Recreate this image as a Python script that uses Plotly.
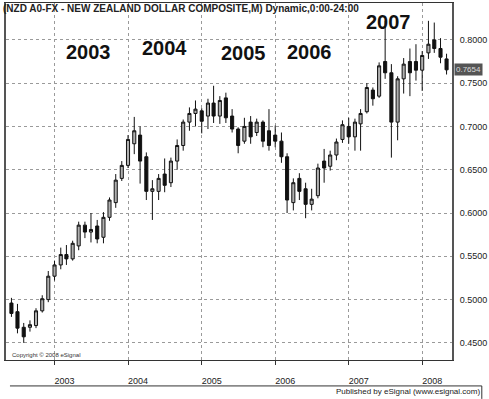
import plotly.graph_objects as go

months = ["2002-06-01","2002-07-01","2002-08-01","2002-09-01","2002-10-01","2002-11-01","2002-12-01",
          "2003-01-01","2003-02-01","2003-03-01","2003-04-01","2003-05-01","2003-06-01","2003-07-01","2003-08-01","2003-09-01","2003-10-01","2003-11-01","2003-12-01",
          "2004-01-01","2004-02-01","2004-03-01","2004-04-01","2004-05-01","2004-06-01","2004-07-01","2004-08-01","2004-09-01","2004-10-01","2004-11-01","2004-12-01",
          "2005-01-01","2005-02-01","2005-03-01","2005-04-01","2005-05-01","2005-06-01","2005-07-01","2005-08-01","2005-09-01","2005-10-01","2005-11-01","2005-12-01",
          "2006-01-01","2006-02-01","2006-03-01","2006-04-01","2006-05-01","2006-06-01","2006-07-01","2006-08-01","2006-09-01","2006-10-01","2006-11-01","2006-12-01",
          "2007-01-01","2007-02-01","2007-03-01","2007-04-01","2007-05-01","2007-06-01","2007-07-01","2007-08-01","2007-09-01","2007-10-01","2007-11-01","2007-12-01",
          "2008-01-01","2008-02-01","2008-03-01","2008-04-01","2008-05-01"]

opens = [0.496,0.486,0.468,0.468,0.470,0.487,0.500,
         0.527,0.540,0.552,0.547,0.562,0.586,0.578,0.585,0.572,0.595,0.612,0.640,
         0.655,0.680,0.690,0.665,0.625,0.625,0.645,0.635,0.660,0.678,0.705,0.715,
         0.718,0.712,0.727,0.712,0.733,0.712,0.697,0.683,0.705,0.693,0.705,0.695,
         0.690,0.683,0.665,0.612,0.640,0.628,0.610,0.620,0.660,0.654,0.667,0.685,
         0.700,0.688,0.703,0.717,0.742,0.735,0.775,0.762,0.705,0.755,0.775,0.775,
         0.765,0.785,0.800,0.790,0.778]
highs = [0.502,0.495,0.473,0.476,0.490,0.505,0.533,
         0.545,0.560,0.563,0.568,0.590,0.590,0.600,0.592,0.601,0.618,0.645,0.660,
         0.690,0.711,0.700,0.670,0.638,0.645,0.663,0.664,0.685,0.708,0.722,0.730,
         0.721,0.732,0.747,0.735,0.739,0.720,0.699,0.710,0.712,0.709,0.707,0.720,
         0.701,0.693,0.669,0.640,0.646,0.635,0.628,0.657,0.674,0.672,0.686,0.707,
         0.710,0.709,0.720,0.750,0.745,0.774,0.822,0.772,0.758,0.779,0.790,0.795,
         0.787,0.822,0.820,0.802,0.784]
lows = [0.480,0.461,0.450,0.463,0.467,0.485,0.497,
        0.522,0.535,0.540,0.545,0.557,0.571,0.566,0.565,0.565,0.591,0.606,0.637,
        0.652,0.668,0.634,0.615,0.592,0.615,0.624,0.630,0.650,0.672,0.695,0.700,
        0.692,0.697,0.704,0.703,0.704,0.693,0.669,0.680,0.680,0.689,0.676,0.672,
        0.676,0.658,0.600,0.603,0.615,0.594,0.603,0.617,0.635,0.649,0.661,0.681,
        0.680,0.672,0.672,0.715,0.724,0.733,0.755,0.664,0.684,0.738,0.735,0.753,
        0.741,0.778,0.785,0.773,0.760]
closes = [0.484,0.467,0.457,0.471,0.487,0.501,0.527,
          0.540,0.552,0.547,0.565,0.586,0.578,0.581,0.570,0.595,0.615,0.638,0.655,
          0.685,0.695,0.660,0.625,0.628,0.640,0.632,0.660,0.678,0.705,0.715,0.720,
          0.706,0.727,0.712,0.730,0.710,0.697,0.678,0.700,0.688,0.705,0.683,0.678,
          0.683,0.665,0.615,0.635,0.625,0.610,0.616,0.652,0.652,0.667,0.682,0.702,
          0.688,0.705,0.715,0.745,0.732,0.770,0.762,0.705,0.755,0.772,0.762,0.765,
          0.782,0.795,0.790,0.780,0.7654]

price_ticks = [0.45, 0.50, 0.55, 0.60, 0.65, 0.70, 0.75, 0.80]
price_labels = ["0.4500", "0.5000", "0.5500", "0.6000", "0.6500", "0.7000", "0.7500", "0.8000"]
year_ticks = ["2003-01-01", "2004-01-01", "2005-01-01", "2006-01-01", "2007-01-01", "2008-01-01"]
year_labels = ["2003", "2004", "2005", "2006", "2007", "2008"]
big_years = ["2003", "2004", "2005", "2006", "2007"]
last_price = "0.7654"

W, H = 489, 399
L, R, T, B = 6, 455, 2, 360

def px(x):
    return (x - L) / (R - L)

def py(y):
    return (B - y) / (B - T)

fig = go.Figure()
fig.add_trace(go.Candlestick(
    x=months, open=opens, high=highs, low=lows, close=closes,
    increasing=dict(fillcolor="#b0b0b0", line=dict(color="#111111", width=1)),
    decreasing=dict(fillcolor="#111111", line=dict(color="#111111", width=1)),
    whiskerwidth=0, showlegend=False, hoverinfo="skip"))

fig.update_layout(
    width=W, height=H,
    margin=dict(l=L, r=W - R, t=T, b=H - B),
    paper_bgcolor="white", plot_bgcolor="white",
    boxgap=0.22,
    showlegend=False,
    font=dict(family="Liberation Sans", color="#222"),
)
fig.update_xaxes(
    type="date", range=["2002-05-05", "2008-05-28"],
    rangeslider=dict(visible=False),
    tickvals=year_ticks, ticktext=year_labels,
    ticks="outside", ticklen=4, tickcolor="#333",
    tickfont=dict(size=9, color="#222", family="Liberation Sans"),
    ticklabelshift=10, ticklabelstandoff=8,
    showgrid=True, gridcolor="#9a9a9a", griddash="dot", gridwidth=1,
    showline=True, linecolor="#333", linewidth=1, mirror=True, zeroline=False,
)
fig.update_yaxes(
    range=[0.4302, 0.8426], side="right",
    tickvals=price_ticks, ticktext=price_labels,
    ticks="", tickfont=dict(size=9, color="#222", family="Liberation Sans"),
    ticklabelstandoff=4,
    showgrid=True, gridcolor="#9a9a9a", griddash="dot", gridwidth=1,
    showline=True, linecolor="#555", linewidth=2, mirror=True, zeroline=False,
)

ann = []
ann.append(dict(x=px(1), y=py(8), xref="paper", yref="paper", xanchor="left", yanchor="middle",
                text="<b>(NZD A0-FX - NEW ZEALAND DOLLAR COMPOSITE,M) Dynamic,0:00-24:00</b>",
                showarrow=False, font=dict(size=10, color="#222", family="Liberation Sans")))
big_pos = [(89, 51), (166, 47), (245, 52), (312, 51), (391, 21)]
for t, (bx, by) in zip(big_years, big_pos):
    ann.append(dict(x=px(bx), y=py(by), xref="paper", yref="paper", xanchor="center", yanchor="middle",
                    text="<b>" + t + "</b>", showarrow=False,
                    font=dict(size=20, color="#111", family="Liberation Sans")))
ann.append(dict(x=px(10), y=py(355), xref="paper", yref="paper", xanchor="left", yanchor="middle",
                text="Copyright © 2008 eSignal", showarrow=False,
                font=dict(size=6, color="#333", family="Liberation Sans")))
ann.append(dict(x=1.0, y=0.7654, xref="paper", yref="y", xanchor="left", yanchor="middle",
                xshift=2, text=last_price, showarrow=False, bgcolor="#555555", borderpad=1,
                font=dict(size=8, color="#dddddd", family="Liberation Sans")))
ann.append(dict(x=px(485), y=py(392), xref="paper", yref="paper", xanchor="right", yanchor="middle",
                text="Published by eSignal (www.esignal.com)", showarrow=False,
                font=dict(size=8, color="#222", family="Liberation Sans")))
fig.update_layout(annotations=ann)

fig.update_layout(shapes=[
    dict(type="line", xref="paper", yref="paper", x0=px(10), x1=px(485), y0=py(386), y1=py(386),
         line=dict(color="#333", width=1)),
    dict(type="line", xref="paper", yref="paper", x0=px(485), x1=px(485), y0=py(386), y1=py(399),
         line=dict(color="#333", width=1)),
])

fig.write_html("out.html", config={"displayModeBar": False},
               post_script="document.body.style.margin='0';")
